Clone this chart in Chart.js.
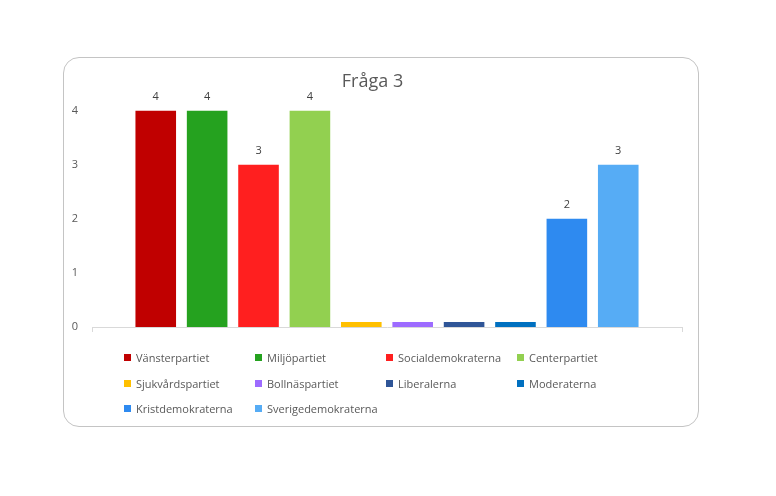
<!DOCTYPE html>
<html lang="sv">
<head>
  <meta charset="UTF-8" />
  <title>Fråga 3</title>
  <style>
    body {
      margin: 0;
      background: #ffffff;
      font-family: 'Open Sans', sans-serif;
    }

    #box {
      position: absolute;
      left: 63px;
      top: 57px;
      width: 636px;
      height: 370px;
      border: 1px solid #c4c4c4;
      border-radius: 16px;
      box-sizing: border-box;
      overflow: hidden;
    }

    #wrap {
      position: absolute;
      left: -1px;
      top: -1px;
      width: 636px;
      height: 370px;
    }

    #legend {
      position: absolute;
      left: 60px;
      top: 291px;
      display: grid;
      grid-template-columns: 131px 131px 131px 131px;
      row-gap: 8.5px;
      font-size: 11px;
      color: #595959;
    }

    #legend span.item {
      display: flex;
      align-items: center;
      height: 17px;
      white-space: nowrap;
    }

    #legend i {
      display: inline-block;
      width: 7px;
      height: 7px;
      margin-right: 5px;
    }
  </style>
</head>
<body>
  <div id="box">
    <div id="wrap"><canvas id="chart" width="636" height="370"></canvas></div>
    <div id="legend"></div>
  </div>

  <script src="https://cdn.jsdelivr.net/npm/chart.js"></script>
  <script>
    const parties = ["Vänsterpartiet", "Miljöpartiet", "Socialdemokraterna", "Centerpartiet",
      "Sjukvårdspartiet", "Bollnäspartiet", "Liberalerna", "Moderaterna",
      "Kristdemokraterna", "Sverigedemokraterna"];
    const votes = [4, 4, 3, 4, 0, 0, 0, 0, 2, 3];
    const colors = ["#c00000", "#25a21f", "#ff1f1f", "#92d050",
      "#ffc000", "#9d6bff", "#2f5597", "#0070c0",
      "#2e8af0", "#56acf5"];
    const yTicks = [0, 1, 2, 3, 4];

    // one dataset per party, like the Excel chart (series in one category)
    const datasets = parties.map((p, i) => ({
      label: p,
      data: [votes[i]],
      backgroundColor: colors[i],
      minBarLength: 5,
      categoryPercentage: 0.871,
      barPercentage: 0.79
    }));

    const valueLabels = {
      id: 'valueLabels',
      afterDatasetsDraw(chart) {
        const ctx = chart.ctx;
        ctx.save();
        ctx.font = '11px "Open Sans"';
        ctx.fillStyle = '#404040';
        ctx.textAlign = 'center';
        ctx.textBaseline = 'middle';
        chart.data.datasets.forEach((ds, i) => {
          const v = ds.data[0];
          if (!v) return;
          const bar = chart.getDatasetMeta(i).data[0];
          ctx.fillText(String(v), bar.x, bar.y - 14);
        });
        ctx.restore();
      }
    };

    new Chart(document.getElementById("chart"), {
      type: 'bar',
      data: { labels: ["Fråga 3"], datasets },
      plugins: [valueLabels],
      options: {
        responsive: false,
        animation: false,
        layout: { padding: { left: 0, right: 17, top: 0, bottom: 100 } },
        plugins: {
          legend: { display: false },
          tooltip: { enabled: false },
          title: {
            display: true,
            text: 'Fråga 3',
            color: '#595959',
            font: { family: 'Open Sans', size: 18, weight: 'normal' },
            padding: { top: 14, bottom: 18 }
          }
        },
        scales: {
          x: {
            offset: true,
            ticks: { display: false },
            grid: { display: true, drawOnChartArea: false, tickLength: 5, color: '#d9d9d9', offset: true },
            border: { display: true, color: '#d9d9d9', width: 1 },
            afterFit(s) { s.height = 0; }
          },
          y: {
            min: 0,
            max: 4,
            afterBuildTicks(s) { s.ticks = yTicks.map(v => ({ value: v })); },
            ticks: { color: '#595959', font: { family: 'Open Sans', size: 11, lineHeight: 0.85 }, padding: 14 },
            grid: { display: false, drawTicks: false },
            border: { display: false },
            afterFit(s) { s.width = 29; }
          }
        }
      }
    });

    const legend = document.getElementById("legend");
    parties.forEach((p, i) => {
      const el = document.createElement("span");
      el.className = "item";
      el.innerHTML = '<i style="background:' + colors[i] + '"></i>' + p;
      legend.appendChild(el);
    });
  </script>
</body>
</html>
